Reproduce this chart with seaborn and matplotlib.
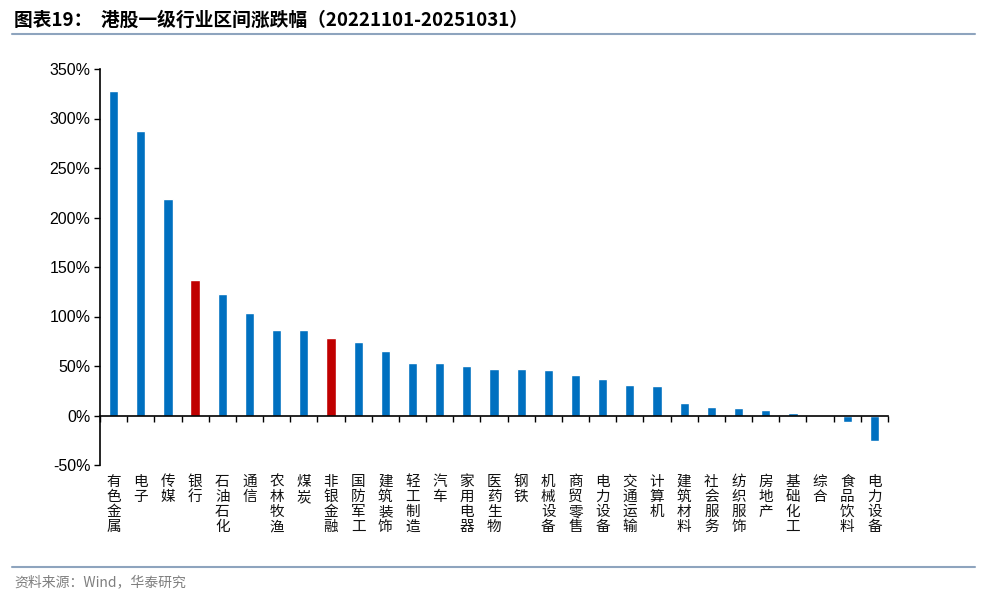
import numpy as np
import pandas as pd
import matplotlib
matplotlib.use("Agg")
import matplotlib.pyplot as plt
import seaborn as sns
from matplotlib.ticker import FuncFormatter, FixedLocator

categories = ["有色金属", "电子", "传媒", "银行", "石油石化", "通信", "农林牧渔", "煤炭",
              "非银金融", "国防军工", "建筑装饰", "轻工制造", "汽车", "家用电器", "医药生物",
              "钢铁", "机械设备", "商贸零售", "电力设备", "交通运输", "计算机", "建筑材料",
              "社会服务", "纺织服饰", "房地产", "基础化工", "综合", "食品饮料", "电力设备"]
values = [328, 287, 219, 137, 123, 104, 86, 86, 78, 74, 65, 53, 53, 50, 47,
          47, 46, 41, 37, 31, 30, 13, 9, 8, 6, 3, 0.5, -7, -26]
highlight = ["银行", "非银金融"]
yticks = [-50, 0, 50, 100, 150, 200, 250, 300, 350]

sns.set_theme(style="white")
plt.rcParams['font.family'] = ['Noto Sans CJK SC', 'DejaVu Sans']

BLUE = "#0070C0"
RED = "#C00000"

df = pd.DataFrame({"cat": [f"{i}" for i in range(len(categories))],
                   "name": categories, "val": values})
df["grp"] = ["hl" if n in highlight else "base" for n in df["name"]]

fig = plt.figure(figsize=(9.84, 6.02), dpi=100)
ax = fig.add_axes([100/984, 1-465/602, 788/984, 396/602])

sns.barplot(data=df, x="cat", y="val", hue="grp", palette={"base": BLUE, "hl": RED},
            dodge=False, width=0.34, legend=False, ax=ax, saturation=1)

n = len(categories)
ax.set_xlim(-0.5, n - 0.5)
ax.set_ylim(-50, 350)
ax.yaxis.set_major_locator(FixedLocator(yticks))
ax.yaxis.set_major_formatter(FuncFormatter(lambda v, p: f"{v:.0f}%"))
for lab in ax.get_yticklabels():
    lab.set_fontfamily(['Liberation Sans', 'DejaVu Sans'])
ax.tick_params(axis='y', direction='out', length=4, width=1, color='black',
               labelsize=11.5, pad=3, left=True, labelcolor='#000000')

ax.set_xticks(np.arange(-0.5, n, 1))
ax.set_xticklabels([])
ax.tick_params(axis='x', direction='out', length=4, width=1, color='black', bottom=True)

ax.spines['bottom'].set_position(('data', 0))
ax.spines['top'].set_visible(False)
ax.spines['right'].set_visible(False)
for s in ['bottom', 'left']:
    ax.spines[s].set_color('black')
    ax.spines[s].set_linewidth(1.2)
ax.set_xlabel("")
ax.set_ylabel("")
ax.grid(False)

trans = ax.get_xaxis_transform()
for i, name in enumerate(categories):
    ax.text(i, -0.025, "\n".join(name), transform=trans, ha='center', va='top',
            fontsize=10.5, linespacing=1.1, color='#111111')

# title and frame lines
fig.text(14/984, 1-20/602, "图表19：  港股一级行业区间涨跌幅（20221101-20251031）",
         fontsize=13.5, fontweight='bold', ha='left', va='center', color='#000000')
fig.add_artist(plt.Line2D([12/984, 975/984], [1-34/602, 1-34/602], color='#8EA4BE', lw=1.5))
fig.add_artist(plt.Line2D([12/984, 975/984], [1-567/602, 1-567/602], color='#8EA4BE', lw=1.5))
fig.text(14/984, 1-582/602, "资料来源：Wind，华泰研究", fontsize=10, ha='left', va='center',
         color='#7F7F7F')

fig.savefig("out.png", dpi=100)
